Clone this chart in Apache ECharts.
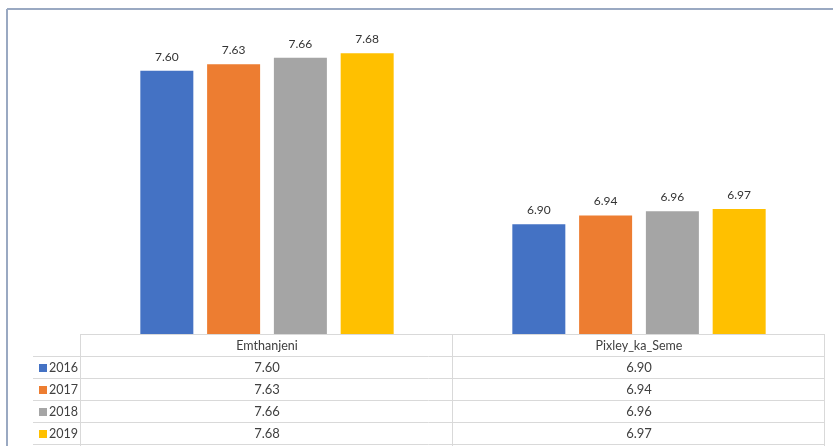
<!DOCTYPE html>
<html>
<head>
<meta charset="utf-8">
<script src="https://cdn.jsdelivr.net/npm/echarts@6/dist/echarts.min.js"></script>
<style>
html,body{margin:0;padding:0;background:#fff;}
#main{width:833px;height:446px;}
</style>
</head>
<body>
<div id="main"></div>
<script>
var categories = ['Emthanjeni', 'Pixley_ka_Seme'];
var seriesNames = ['2016', '2017', '2018', '2019'];
var values2016 = [7.60, 6.90];
var values2017 = [7.63, 6.94];
var values2018 = [7.66, 6.96];
var values2019 = [7.68, 6.97];
var seriesColors = ['#4472c4', '#ed7d31', '#a5a5a5', '#ffc000'];

var allValues = [values2016, values2017, values2018, values2019];
var FONT = 'Lato, "Open Sans", sans-serif';
var TXT = '#404040';
var LINE = '#d9d9d9';

var chart = echarts.init(document.getElementById('main'), null, {renderer: 'canvas'});

var series = seriesNames.map(function (name, i) {
  return {
    name: name,
    type: 'bar',
    data: allValues[i],
    barWidth: 53,
    barGap: '26%',
    itemStyle: {color: seriesColors[i]},
    label: {
      show: true,
      position: 'top',
      distance: 8,
      color: '#333333',
      fontFamily: FONT,
      fontSize: 12,
      formatter: function (p) { return p.value.toFixed(2); }
    }
  };
});

chart.setOption({
  animation: false,
  backgroundColor: '#ffffff',
  grid: {left: 81, right: 8, top: 27, bottom: 112, containLabel: false},
  xAxis: {
    type: 'category',
    data: categories,
    axisLine: {show: false},
    axisTick: {show: false},
    axisLabel: {show: false}
  },
  yAxis: {
    type: 'value',
    min: 6.4,
    max: 7.8,
    show: false,
    splitLine: {show: false}
  },
  series: series
});

// Build data table below the plot
var g = [];
var yTop = 334;
var rowH = 22;
var nRows = seriesNames.length + 1;
var centers = categories.map(function (c) { return chart.convertToPixel({xAxisIndex: 0}, c); });
var half = (centers[1] - centers[0]) / 2;
var colEdges = [centers[0] - half - 1];
centers.forEach(function (c) { colEdges.push(c + half - 1); });
var legendLeft = 33;
var right = colEdges[colEdges.length - 1];

// horizontal lines
for (var r = 0; r <= nRows; r++) {
  var y = yTop + r * rowH + 0.5;
  var x1 = r === 0 ? colEdges[0] : legendLeft;
  g.push({type: 'line', shape: {x1: x1, y1: y, x2: right, y2: y}, style: {stroke: LINE, lineWidth: 1}, silent: true});
}
// vertical lines
colEdges.forEach(function (x) {
  g.push({type: 'line', shape: {x1: x + 0.5, y1: yTop, x2: x + 0.5, y2: 446}, style: {stroke: LINE, lineWidth: 1}, silent: true});
});
// header texts
categories.forEach(function (c, j) {
  g.push({type: 'text', x: centers[j], y: yTop + rowH / 2 + 1, style: {text: c, fill: TXT, font: '12.5px ' + FONT, textAlign: 'center', textVerticalAlign: 'middle'}, silent: true});
});
// rows
seriesNames.forEach(function (name, i) {
  var yc = yTop + (i + 1) * rowH + rowH / 2 + 1;
  g.push({type: 'rect', shape: {x: 39, y: yc - 4, width: 8, height: 8}, style: {fill: seriesColors[i]}, silent: true});
  g.push({type: 'text', x: 49, y: yc, style: {text: name, fill: TXT, font: '12.5px ' + FONT, textAlign: 'left', textVerticalAlign: 'middle'}, silent: true});
  allValues[i].forEach(function (v, j) {
    g.push({type: 'text', x: centers[j], y: yc, style: {text: v.toFixed(2), fill: TXT, font: '13px ' + FONT, textAlign: 'center', textVerticalAlign: 'middle'}, silent: true});
  });
});
// outer frame
g.push({type: 'line', shape: {x1: 7, y1: 9, x2: 833, y2: 9}, style: {stroke: '#9aa9c2', lineWidth: 2}, silent: true});
g.push({type: 'line', shape: {x1: 7, y1: 9, x2: 7, y2: 446}, style: {stroke: '#9aa9c2', lineWidth: 2}, silent: true});

chart.setOption({graphic: {elements: g}});
</script>
</body>
</html>
